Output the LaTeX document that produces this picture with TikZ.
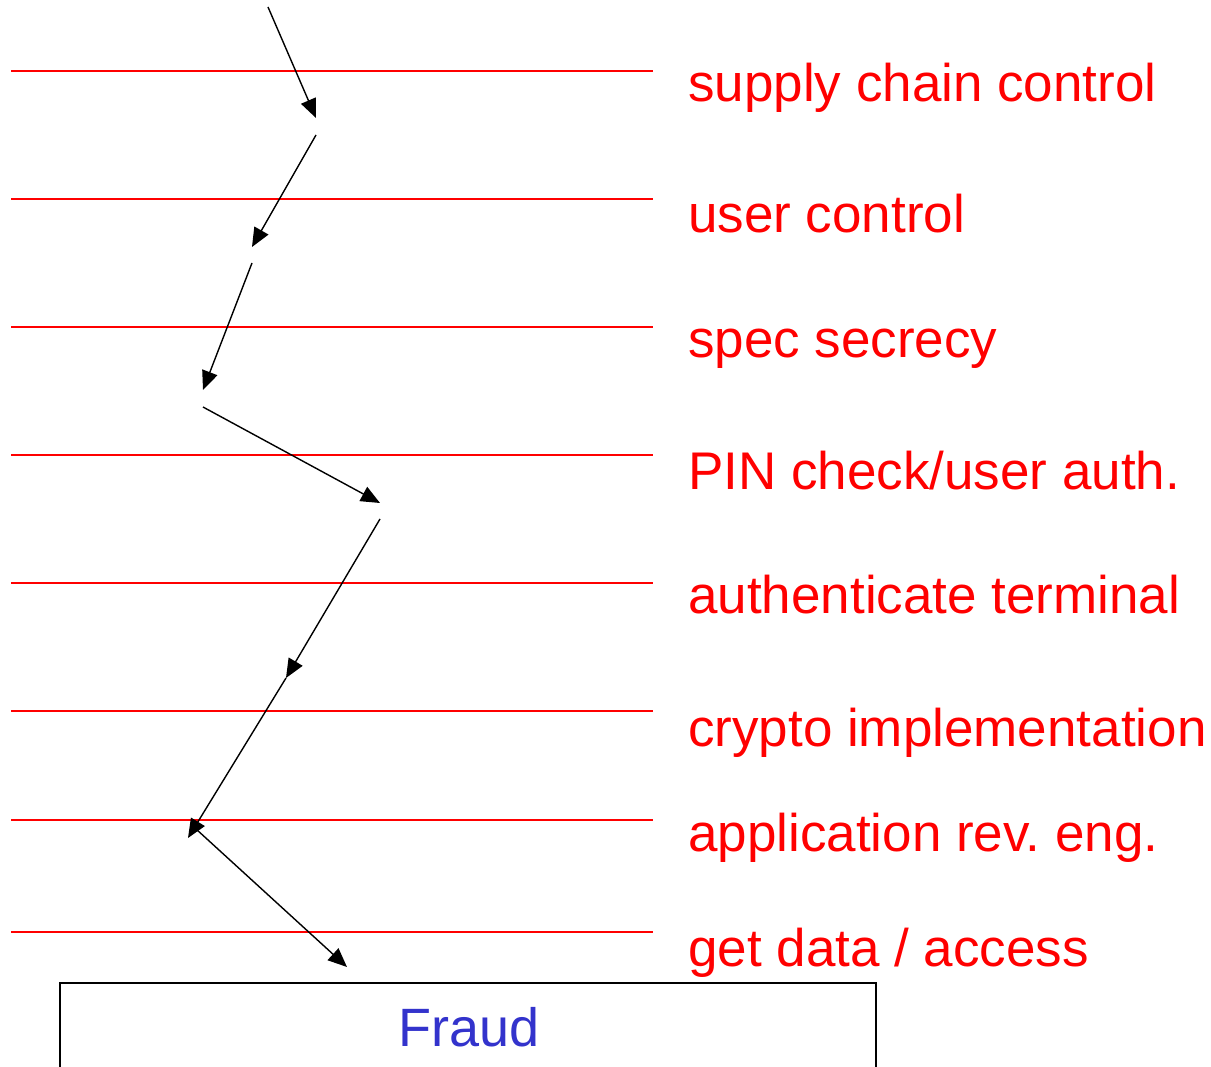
\documentclass[tikz,border=0pt]{standalone}
\usepackage{fontspec}
\setmainfont{Liberation Sans}
\usepackage{tikz}
\usetikzlibrary{arrows.meta}
\definecolor{fraudblue}{RGB}{51,51,204}
\frenchspacing

\begin{document}
\begin{tikzpicture}[x=1pt, y=-1pt,
	layer/.style={color=red, line width=1.5pt},
	lab/.style={anchor=base west, inner sep=0, text=red, font=\fontsize{53}{60}\selectfont},
	flow/.style={line width=1.4pt, -{Triangle[length=19pt, width=16pt]}}]

	\useasboundingbox (0,0) rectangle (1211,1067);

% draw layer lines
	\draw[layer] (11,71) -- (653,71);
	\draw[layer] (11,199) -- (653,199);
	\draw[layer] (11,327) -- (653,327);
	\draw[layer] (11,455) -- (653,455);
	\draw[layer] (11,583) -- (653,583);
	\draw[layer] (11,711) -- (653,711);
	\draw[layer] (11,820) -- (653,820);
	\draw[layer] (11,932) -- (653,932);

% layer labels
	\node[lab] (supply) at (688,102) {supply chain control};
	\node[lab] (user) at (688,233) {user control};
	\node[lab] (spec) at (688,358) {spec secrecy};
	\node[lab] (pin) at (688,489) {PIN check/user auth.};
	\node[lab] (term) at (688,613) {authenticate terminal};
	\node[lab] (crypto) at (688,746) {crypto implementation};
	\node[lab] (app) at (688,851) {application rev. eng.};
	\node[lab] (data) at (688,966) {get data / access};

% attack path
	\coordinate (a0) at (268,7);
	\coordinate (a1) at (316,118);
	\coordinate (b0) at (316,135);
	\coordinate (b1) at (252,247);
	\coordinate (c0) at (252,263);
	\coordinate (c1) at (203,390);
	\coordinate (d0) at (203,407);
	\coordinate (d1) at (380,503);
	\coordinate (e0) at (380,519);
	\coordinate (e1) at (286,678);
	\coordinate (f1) at (188,838);
	\coordinate (g0) at (196,829);
	\coordinate (g1) at (347,967);

	\draw[flow] (a0) -- (a1);
	\draw[flow] (b0) -- (b1);
	\draw[flow] (c0) -- (c1);
	\draw[flow] (d0) -- (d1);
	\draw[flow] (e0) -- (e1);
	\draw[flow] (e1) -- (f1);
	\draw[flow] (g0) -- (g1);

% fraud box
	\draw[line width=1.5pt] (60,1090) -- (60,983) -- (876,983) -- (876,1090);
	\node[anchor=base, inner sep=0, text=fraudblue, font=\fontsize{54}{60}\selectfont] (fraud) at (469,1046) {Fraud};

\end{tikzpicture}
\end{document}
